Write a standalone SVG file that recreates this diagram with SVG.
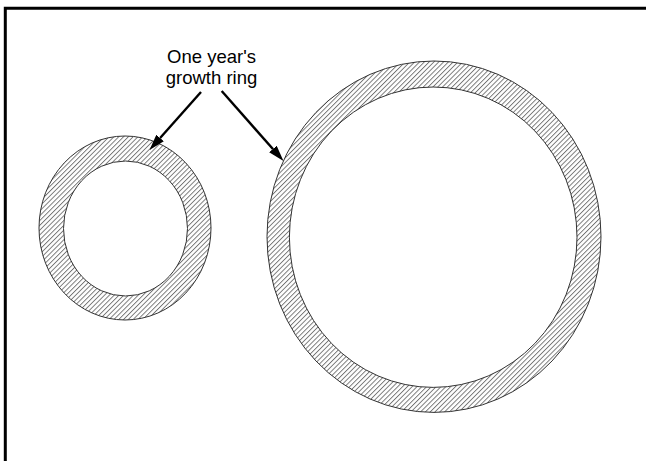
<svg xmlns="http://www.w3.org/2000/svg" width="646" height="461" viewBox="0 0 646 461">
<style>
.frame{fill:none;stroke:#000;stroke-width:3}
.ring{fill:url(#hatch);fill-rule:evenodd;stroke:#333;stroke-width:1}
.lbl{font-family:"Liberation Sans",Arial,sans-serif;font-size:18.5px;fill:#000;text-anchor:middle}
.arrow{stroke:#000;stroke-width:2.4;fill:none;marker-end:url(#head)}
</style>
<defs>
<pattern id="hatch" patternUnits="userSpaceOnUse" width="3.4" height="10" patternTransform="rotate(45)">
<line x1="0.5" y1="0" x2="0.5" y2="10" stroke="#444" stroke-width="0.75"/>
</pattern>
<marker id="head" markerUnits="userSpaceOnUse" viewBox="0 0 16 10" refX="0" refY="5" markerWidth="16" markerHeight="10" orient="auto">
<path d="M0,0 L16,5 L0,10 Z" fill="#000"/>
</marker>
</defs>
<rect width="646" height="461" fill="#fff"/>
<path class="frame" d="M5.3,461 V8.3 H646"/>
<g id="small-ring">
<path class="ring" d="M39,228 a86,92 0 1,0 172,0 a86,92 0 1,0 -172,0 Z M63.5,228.5 a62,67.5 0 1,0 124,0 a62,67.5 0 1,0 -124,0 Z"/>
</g>
<g id="large-ring">
<path class="ring" d="M267,236.7 a167,175.7 0 1,0 334,0 a167,175.7 0 1,0 -334,0 Z M289.4,237.2 a143.8,150.2 0 1,0 287.6,0 a143.8,150.2 0 1,0 -287.6,0 Z"/>
</g>
<g id="label">
<text class="lbl" x="211.5" y="62.7">One year's</text>
<text class="lbl" x="211.5" y="84.3">growth ring</text>
</g>
<g id="connectors">
<line class="arrow" x1="201" y1="92" x2="160.1" y2="138.05"/>
<line class="arrow" x1="221.7" y1="91" x2="272.9" y2="149"/>
</g>
</svg>
